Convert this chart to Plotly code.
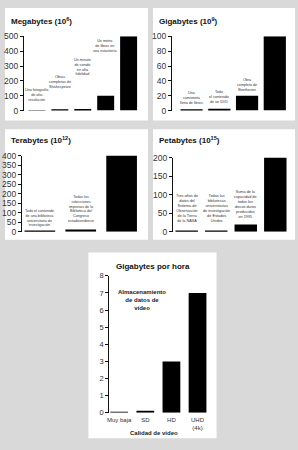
import plotly.graph_objects as go

W, H = 298, 450

# ---------------- data ----------------
mb_items = ["Una fotografía<br>de alta<br>resolución", "Obras<br>completas de<br>Shakespeare",
            "Un minuto<br>de sonido<br>en alta<br>fidelidad", "Un metro<br>de libros en<br>una estantería",
            "Todo<br>el contenido<br>de un CD"]
mb_values = [2, 5, 10, 100, 500]

gb_items = ["Una<br>camioneta<br>llena de libros", "Todo<br>el contenido<br>de un DVD",
            "Obra<br>completa de<br>Beethoven",
            "Todas las revistas<br>académicas<br>almacenadas en<br>una planta de una<br>biblioteca"]
gb_values = [1, 2.5, 20, 100]

tb_items = ["Todo el contenido<br>de una biblioteca<br>universitaria de<br>investigación",
            "Todas las<br>colecciones<br>impresas de la<br>Biblioteca del<br>Congreso<br>estadounidense",
            "Base de datos<br>del National<br>Climatic Data<br>Center"]
tb_values = [2, 12, 400]

pb_items = ["Tres años de<br>datos del<br>Sistema de<br>Observación<br>de la Tierra<br>de la NASA",
            "Todas las<br>bibliotecas<br>universitarias<br>de investigación<br>de Estados<br>Unidos",
            "Suma de la<br>capacidad de<br>todos los<br>discos duros<br>producidos<br>en 1995",
            "Todo el material<br>impreso en el<br>mundo"]
pb_values = [1, 2, 20, 200]

video_quality = ["Muy baja", "SD", "HD", "UHD<br>(4k)"]
video_gb_per_hour = [0.02, 0.07, 3, 7]

titles = ["Megabytes (10<sup>6</sup>)", "Gigabytes (10<sup>9</sup>)",
          "Terabytes (10<sup>12</sup>)", "Petabytes (10<sup>15</sup>)"]

# ---------------- layout helpers (pixel geometry) ----------------
def xd(a, b):
    return [a / W, b / W]

def yd(top, bottom):
    return [1 - bottom / H, 1 - top / H]

BG = "#d9d9d9"
FONT = "Liberation Sans, Arial, sans-serif"

panels = [
    dict(items=mb_items, values=mb_values, label_y=[46, 132, 217, 375, 526],
         xdom=(22, 139), ydom=(32, 108), xr=[-0.57, 4.5], yr=[0, 500], dtick=100,
         bw=0.74, title_xy=(7, 16), box=(3, 3, 147, 118), lsize=3.7),
    dict(items=gb_items, values=gb_values, label_y=[5.3, 6, 23, 107],
         xdom=(171, 290), ydom=(32, 108), xr=[-0.71, 3.55], yr=[0, 100], dtick=20,
         bw=0.8, title_xy=(156, 16), box=(152, 3, 295, 118), lsize=3.7),
    dict(items=tb_items, values=tb_values, label_y=[13, 36, 410],
         xdom=(20, 141), ydom=(154, 232), xr=[-0.44, 2.5], yr=[0, 400], dtick=50,
         bw=0.75, title_xy=(7, 138), box=(3, 127, 147, 240), lsize=3.7),
    dict(items=pb_items, values=pb_values, label_y=[18, 18, 29, 216],
         xdom=(172, 290), ydom=(156, 232), xr=[-0.47, 3.5], yr=[0, 200], dtick=50,
         bw=0.76, title_xy=(156, 138), box=(152, 127, 295, 240), lsize=3.8),
]

fig = go.Figure()
layout = dict(
    width=W, height=H, margin=dict(l=0, r=0, t=0, b=0),
    paper_bgcolor=BG, plot_bgcolor="rgba(0,0,0,0)",
    showlegend=False, font=dict(family=FONT, color="#222"),
)
shapes = []
annotations = []

def yaxis_style(dom, yr, dtick, size):
    return dict(domain=yd(*dom), range=yr, dtick=dtick, showgrid=False, zeroline=False,
                showline=True, linecolor="#111", linewidth=1, ticks="outside", ticklen=3,
                tickcolor="#111", tickwidth=1, tickfont=dict(size=size, color="#333"),
                fixedrange=True)

for i, p in enumerate(panels):
    n = i + 1
    xa = "x" if n == 1 else f"x{n}"
    ya = "y" if n == 1 else f"y{n}"
    fig.add_trace(go.Bar(x=p["items"], y=p["values"], width=p["bw"], marker_color="#000",
                         marker_line_width=0, xaxis=xa, yaxis=ya))
    layout["xaxis" if n == 1 else f"xaxis{n}"] = dict(
        domain=xd(*p["xdom"]), range=p["xr"], type="category", showticklabels=False,
        showline=False, showgrid=False, zeroline=False, ticks="", anchor=ya)
    layout["yaxis" if n == 1 else f"yaxis{n}"] = dict(
        anchor=xa, **yaxis_style(p["ydom"], p["yr"], p["dtick"], 8.5))
    x0, y0, x1, y1 = p["box"]
    shapes.append(dict(type="rect", xref="paper", yref="paper", x0=x0 / W, x1=x1 / W,
                       y0=1 - y1 / H, y1=1 - y0 / H, fillcolor="white", line_width=0,
                       layer="below"))
    tx, ty = p["title_xy"]
    annotations.append(dict(text="<b>" + titles[i] + "</b>", xref="paper", yref="paper",
                            x=tx / W, y=1 - ty / H, xanchor="left", yanchor="middle",
                            showarrow=False, font=dict(size=8, color="#111")))
    for item, ly in zip(p["items"], p["label_y"]):
        annotations.append(dict(text=item, x=item, y=ly, xref=xa, yref=ya,
                                xanchor="center", yanchor="bottom", showarrow=False,
                                font=dict(size=p["lsize"], color="#333")))

# ---------------- bottom panel: Gigabytes por hora ----------------
fig.add_trace(go.Bar(x=video_quality, y=video_gb_per_hour, width=0.68, marker_color="#000",
                     marker_line_width=0, xaxis="x5", yaxis="y5"))
layout["xaxis5"] = dict(domain=xd(108, 210), range=[-0.38, 3.5], type="category",
                        showline=False, showgrid=False, zeroline=False, ticks="",
                        ticklabelstandoff=2,
                        tickfont=dict(size=6, color="#333"), anchor="y5")
layout["yaxis5"] = dict(anchor="x5", **yaxis_style((277, 417), [0, 8], 1, 7.5))
shapes.append(dict(type="rect", xref="paper", yref="paper", x0=87 / W, x1=216 / W,
                   y0=1 - 443 / H, y1=1 - 253 / H, fillcolor="white", line_width=0,
                   layer="below"))
annotations.append(dict(text="<b>Gigabytes por hora</b>", xref="paper", yref="paper",
                        x=152 / W, y=1 - 267 / H, xanchor="center", yanchor="middle",
                        showarrow=False, font=dict(size=8, color="#111")))
annotations.append(dict(text="<b>Almacenamiento<br>de datos de<br>vídeo</b>", xref="x5", yref="y5",
                        x=0.87, y=6.6, xanchor="center", yanchor="middle", showarrow=False,
                        font=dict(size=6, color="#222")))
annotations.append(dict(text="<b>Calidad de vídeo</b>", xref="paper", yref="paper",
                        x=153 / W, y=1 - 438 / H, xanchor="center", yanchor="middle",
                        showarrow=False, font=dict(size=6, color="#222")))

layout["shapes"] = shapes
layout["annotations"] = annotations
fig.update_layout(**layout)
fig.write_html("out.html", config=dict(displayModeBar=False))
